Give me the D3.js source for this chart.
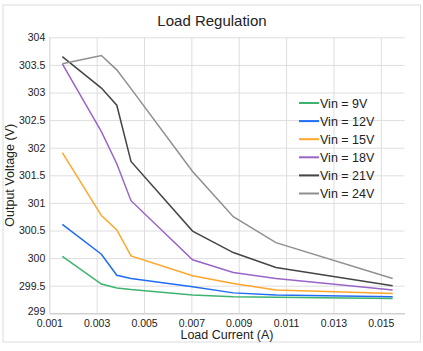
<!DOCTYPE html>
<html>
<head>
<meta charset="utf-8">
<script src="https://cdn.jsdelivr.net/npm/d3@7"></script>
<style>
  body { margin: 0; background: #fff; }
  text { font-family: "Liberation Sans", Arial, sans-serif; fill: #222; }
</style>
</head>
<body>
<div id="chart"></div>
<script>
// load current (A)
const loadCurrent = [0.00155, 0.0032, 0.00385, 0.00445, 0.00705, 0.00877, 0.01057, 0.0155]

const seriesNames = ["Vin = 9V", "Vin = 12V", "Vin = 15V", "Vin = 18V", "Vin = 21V", "Vin = 24V"]
const seriesColors = ["#3cb46e", "#1f6cf5", "#ffa62b", "#9a65c9", "#454545", "#8f8f8f"]

const vin9 = [300.03, 299.53, 299.46, 299.43, 299.33, 299.30, 299.29, 299.27]
const vin12 = [300.61, 300.07, 299.69, 299.63, 299.48, 299.37, 299.33, 299.30]
const vin15 = [301.91, 300.77, 300.51, 300.04, 299.68, 299.54, 299.42, 299.36]
const vin18 = [303.52, 302.29, 301.71, 301.04, 299.97, 299.74, 299.63, 299.42]
const vin21 = [303.65, 303.08, 302.77, 301.75, 300.49, 300.10, 299.83, 299.50]
const vin24 = [303.52, 303.67, 303.41, 303.07, 301.57, 300.75, 300.28, 299.63]

const xTicks = [0.001, 0.003, 0.005, 0.007, 0.009, 0.011, 0.013, 0.015]
const yTicks = [299, 299.5, 300, 300.5, 301, 301.5, 302, 302.5, 303, 303.5, 304]

const allSeries = [vin9, vin12, vin15, vin18, vin21, vin24]

const W = 423, H = 351
var margin = { top: 37.3, right: 18.5, bottom: 37.7, left: 49.3 },
    width = W - margin.left - margin.right,
    height = H - margin.top - margin.bottom

var svg = d3.select("#chart").append("svg")
    .attr("width", W)
    .attr("height", H)

// outer frame
svg.append("rect")
    .attr("x", 3).attr("y", 5)
    .attr("width", 417.5).attr("height", 337)
    .attr("fill", "none")
    .attr("stroke", "#dcdcdc")

svg.append("text")
    .attr("x", 212).attr("y", 26)
    .attr("text-anchor", "middle")
    .style("font-size", "15px")
    .text("Load Regulation")

var g = svg.append("g")
    .attr("transform", "translate(" + margin.left + "," + margin.top + ")")

var x = d3.scaleLinear().domain([0.001, 0.016]).range([0, width])
var y = d3.scaleLinear().domain([299, 304]).range([height, 0])

// gridlines
g.append("g")
    .call(d3.axisLeft(y).tickValues(yTicks).tickSize(-width).tickFormat(""))
    .call(a => a.select(".domain").remove())
    .selectAll("line").attr("stroke", "#dedede")
g.append("g")
    .call(d3.axisTop(x).tickValues(xTicks).tickSize(-height).tickFormat(""))
    .call(a => a.select(".domain").remove())
    .selectAll("line").attr("stroke", "#dedede")

// axes
var xAxis = g.append("g")
    .attr("transform", "translate(0," + height + ")")
    .call(d3.axisBottom(x).tickValues(xTicks).tickSize(0).tickPadding(6.5).tickFormat(d3.format(".3f")))
xAxis.select(".domain").attr("stroke", "#c8c8c8")
xAxis.selectAll("text").style("font-size", "10.5px").attr("fill", "#222")

var yAxis = g.append("g")
    .call(d3.axisLeft(y).tickValues(yTicks).tickSize(0).tickPadding(4).tickFormat(d => d))
yAxis.select(".domain").attr("stroke", "#dedede")
yAxis.selectAll("text").style("font-size", "10.5px").attr("fill", "#222")
yAxis.selectAll("text").filter(d => d === 299).attr("dy", "0.15em")

svg.append("text")
    .attr("transform", "translate(14," + (margin.top + height / 2) + ") rotate(-90)")
    .attr("text-anchor", "middle")
    .style("font-size", "12.5px")
    .text("Output Voltage (V)")

svg.append("text")
    .attr("x", 227).attr("y", 339)
    .attr("text-anchor", "middle")
    .style("font-size", "12.5px")
    .text("Load Current (A)")

// lines
var line = d3.line()
    .x((d, i) => x(loadCurrent[i]))
    .y(d => y(d))

allSeries.forEach((s, i) => {
    g.append("path")
        .datum(s)
        .attr("fill", "none")
        .attr("stroke", seriesColors[i])
        .attr("stroke-width", 1.5)
        .attr("d", line)
})

// legend
var legend = svg.append("g").attr("transform", "translate(299,103)")
seriesNames.forEach((name, i) => {
    var row = legend.append("g").attr("transform", "translate(0," + (i * 18.1) + ")")
    row.append("line")
        .attr("x1", 0).attr("x2", 20)
        .attr("stroke", seriesColors[i])
        .attr("stroke-width", 2)
    row.append("text")
        .attr("x", 21).attr("y", 4.5)
        .style("font-size", "12.5px")
        .text(name)
})
</script>
</body>
</html>
